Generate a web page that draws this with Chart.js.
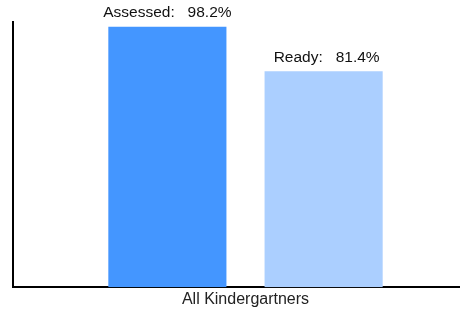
<!DOCTYPE html>
<html>
<head>
<meta charset="utf-8">
<script src="https://cdn.jsdelivr.net/npm/chart.js@4"></script>
<style>
  html, body { margin: 0; padding: 0; background: #fff; overflow: hidden; }
  #wrap { width: 460px; height: 311px; overflow: hidden; }
</style>
</head>
<body>
<div id="wrap"><canvas id="chart" width="478" height="311"></canvas></div>
<script>
const categories = ["All Kindergartners"];
const seriesNames = ["Assessed", "Ready"];
const assessedValues = [98.2];
const readyValues = [81.4];
const barColors = ["#4496ff", "#abcfff"];

// labels drawn over each bar, e.g. "Assessed:   98.2%"
const barLabels = {
  id: "barLabels",
  afterDatasetsDraw(chart) {
    const ctx = chart.ctx;
    ctx.save();
    ctx.font = "15.5px 'Liberation Sans', Arial, sans-serif";
    ctx.fillStyle = "#111";
    ctx.textAlign = "center";
    ctx.textBaseline = "bottom";
    chart.data.datasets.forEach((ds, i) => {
      const meta = chart.getDatasetMeta(i);
      meta.data.forEach((bar, j) => {
        const txt = ds.label + ":   " + ds.data[j].toFixed(1) + "%";
        ctx.fillText(txt, bar.x + (i === 1 ? 3 : 0), bar.y - 6);
      });
    });
    ctx.restore();
  }
};

new Chart(document.getElementById("chart"), {
  type: "bar",
  data: {
    labels: categories,
    datasets: [
      { label: seriesNames[0], data: assessedValues, backgroundColor: barColors[0] },
      { label: seriesNames[1], data: readyValues, backgroundColor: barColors[1] }
    ]
  },
  options: {
    responsive: false,
    animation: false,
    layout: { padding: { left: 13, top: 22, right: 0, bottom: -1 } },
    datasets: { bar: { categoryPercentage: 0.672, barPercentage: 0.756 } },
    plugins: { legend: { display: false }, tooltip: { enabled: false } },
    scales: {
      x: {
        grid: { display: false, drawTicks: false },
        border: { color: "#000", width: 2 },
        ticks: {
          color: "#222",
          padding: 6,
          font: { family: "'Liberation Sans', Arial, sans-serif", size: 16, lineHeight: 0.8 }
        }
      },
      y: {
        min: 0,
        max: 100,
        grid: { display: false, drawTicks: false },
        border: { color: "#000", width: 2 },
        ticks: { display: false }
      }
    }
  },
  plugins: [barLabels]
});
</script>
</body>
</html>
